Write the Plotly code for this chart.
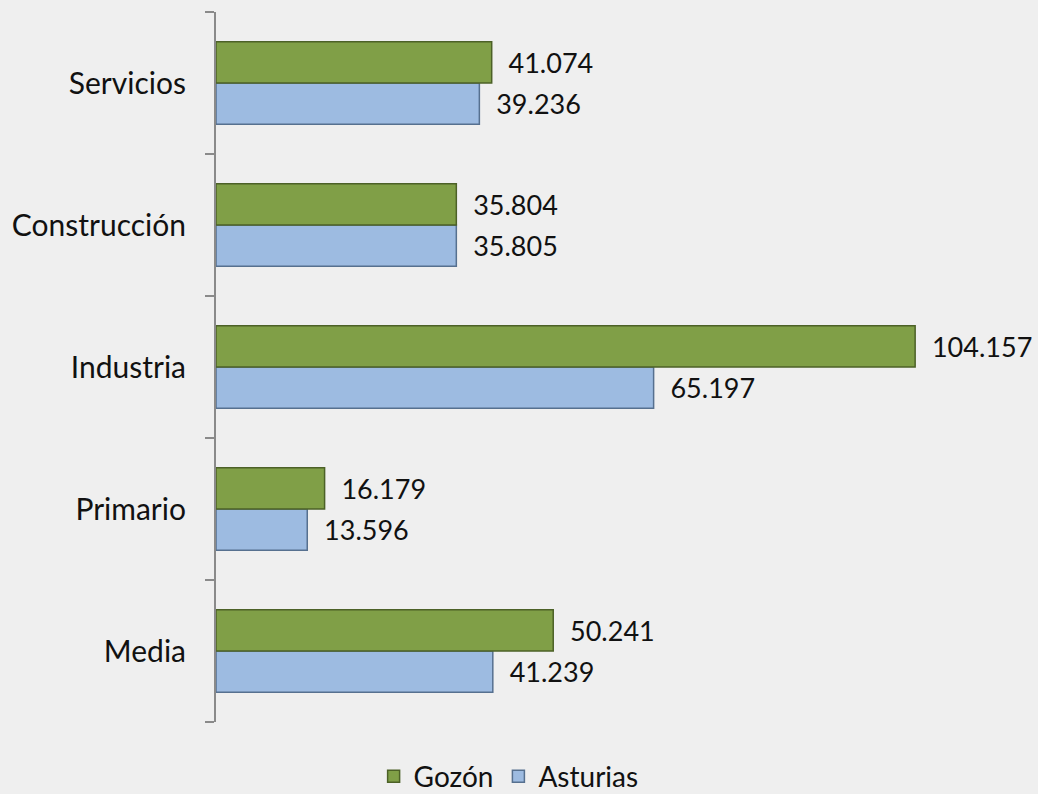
import plotly.graph_objects as go

categories = ["Media", "Primario", "Industria", "Construcción", "Servicios"]
gozon = [50241, 16179, 104157, 35804, 41074]
asturias = [41239, 13596, 65197, 35805, 39236]

FONT = "Lato, 'Open Sans', sans-serif"
NB = "\u00a0\u00a0"

fig = go.Figure()
fig.add_trace(go.Bar(
    y=categories, x=asturias, orientation="h", name="Asturias",
    marker=dict(color="#9dbbe1", line=dict(color="#56708f", width=1.5)),
    texttemplate=NB + "%{x:,.0f}", textposition="outside",
    textfont=dict(size=27, color="#111111", family=FONT),
    cliponaxis=False,
))
fig.add_trace(go.Bar(
    y=categories, x=gozon, orientation="h", name="Gozón",
    marker=dict(color="#809f47", line=dict(color="#4c6127", width=1.5)),
    texttemplate=NB + "%{x:,.0f}", textposition="outside",
    textfont=dict(size=27, color="#111111", family=FONT),
    cliponaxis=False,
))

fig.update_layout(
    width=1038, height=794,
    margin=dict(l=216, r=38, t=12, b=72),
    paper_bgcolor="#efefef", plot_bgcolor="rgba(0,0,0,0)",
    barmode="group", bargap=0.42, bargroupgap=0.0,
    separators=",.",
    font=dict(family=FONT, size=28, color="#111111"),
    showlegend=True,
    legend=dict(orientation="h", traceorder="reversed",
                xref="container", yref="container",
                x=0.49, xanchor="center", y=0.022, yanchor="middle",
                font=dict(size=28), bgcolor="rgba(0,0,0,0)"),
    xaxis=dict(range=[0, 116800], visible=False, showgrid=False, zeroline=False),
    yaxis=dict(showline=True, linecolor="#8a8a8a", linewidth=2,
               ticks="outside", tickson="boundaries", ticklen=9,
               tickcolor="#8a8a8a", tickwidth=2,
               ticklabelstandoff=22, showgrid=False,
               tickfont=dict(size=30, color="#111111")),
)

fig.write_html(
    "out.html",
    config={"displayModeBar": False},
    post_script="document.body.style.margin='0';document.body.style.overflow='hidden';window.dispatchEvent(new Event('resize'));",
)
